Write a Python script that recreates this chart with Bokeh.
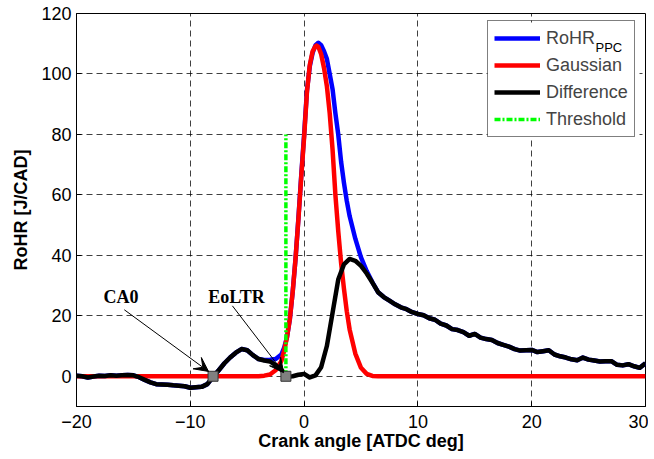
import numpy as np
from bokeh.plotting import figure
from bokeh.models import (Legend, LegendItem, Label, Arrow, VeeHead, FixedTicker, BoxAnnotation)
from bokeh.embed import file_html
from bokeh.resources import INLINE

# ---------------- data ----------------
diff_angle = list(np.arange(-20.0, 30.01, 0.5))
diff_vals = [0.2, 0.0, -0.4, -0.1, 0.2, 0.1, 0.3, 0.2, 0.3, 0.4,
             0.3, -0.3, -1.2, -2.0, -2.6, -2.7, -2.8, -3.0, -3.1, -3.3,
             -3.8, -3.6, -3.5, -2.6, -0.2, 2.0, 4.3, 6.2, 7.8, 9.0,
             8.6, 7.0, 5.7, 5.2, 4.9, 3.7, 2.2, -0.2, 0.0, 0.5,
             0.8, -0.4, 0.3, 3.0, 10.0, 21.0, 32.0, 37.0, 38.8, 38.2,
             36.5, 34.0, 31.0, 27.8, 26.2, 25.0, 23.8, 22.8, 22.2, 21.2,
             20.6, 20.2, 19.2, 18.7, 17.4, 16.8, 15.6, 15.3, 14.6, 13.4,
             14.0, 12.8, 12.3, 12.0, 11.0, 10.4, 9.8, 9.0, 8.5, 8.6,
             8.7, 8.0, 8.3, 8.6, 7.2, 6.6, 6.2, 5.6, 5.3, 6.2,
             5.5, 5.2, 4.9, 5.0, 5.0, 3.8, 3.6, 4.0, 3.3, 2.8,
             4.3]

gauss_angle = [-20, -4, -3.5, -3, -2.5, -2, -1.75, -1.5, -1.25, -1, -0.75, -0.5, -0.25, 0,
               0.25, 0.5, 0.75, 1, 1.1, 1.25, 1.5, 1.75, 2, 2.25, 2.5, 2.75, 3, 3.25, 3.5, 3.75, 4,
               4.5, 5, 5.5, 6, 6.5, 30]
gauss_vals = [0, 0, 0.2, 0.6, 2.0, 5.0, 8.5, 13, 19, 28, 39, 52, 66, 79,
              94, 103, 107.5, 109.2, 109.4, 109, 106.5, 102, 96, 87, 75, 60, 48, 37.5, 29, 21.5, 15.5,
              7.5, 2.8, 0.8, 0.1, 0, 0]

# RoHR_PPC around the combustion peak (elsewhere it coincides with the Difference curve)
peak_angle = [-3.5, -3, -2.5, -2, -1.75, -1.5, -1.25, -1, -0.75, -0.5, -0.25, 0,
              0.25, 0.5, 0.75, 1, 1.25, 1.5, 1.75, 2, 2.25, 2.5, 2.75, 3, 3.25, 3.5, 3.75, 4,
              4.5, 5, 5.5, 6]
peak_vals = [5.4, 5.5, 5.7, 7.2, 9.5, 13, 19, 28, 39, 52.3, 66.5, 79.8,
             94.5, 102.5, 107, 109.5, 110.3, 109.5, 107.5, 105, 100, 95, 87, 80, 71, 64, 58, 53,
             45.5, 39.3, 34.8, 31.1]
rohr_angle = diff_angle[:33] + peak_angle + diff_angle[53:]
rohr_vals = diff_vals[:33] + peak_vals + diff_vals[53:]

ca0 = -8.0
eoltr = -1.6
threshold_top = 80

x_ticks = [-20, -10, 0, 10, 20, 30]
y_ticks = [0, 20, 40, 60, 80, 100, 120]

# ---------------- layout constants (pixels) ----------------
FW, FH = 569, 393
X0, X1, Y0, Y1 = -20, 30, -10, 120
LEG_X, LEG_Y = 411, 269          # legend bottom-left, from frame bottom-left
LEG_PAD, ROW_H, ROW_SP, GLYPH_W, STANDOFF = 6, 22, 5, 46, 6
LEG_W, LEG_H = 152, 2 * LEG_PAD + 4 * ROW_H + 3 * ROW_SP


def sx(px):  # frame pixel -> data x
    return X0 + px / FW * (X1 - X0)


def sy(py):  # frame pixel (from bottom) -> data y
    return Y0 + py / FH * (Y1 - Y0)


# ---------------- figure ----------------
p = figure(frame_width=FW, frame_height=FH, x_range=(X0, X1), y_range=(Y0, Y1),
           output_backend="svg", toolbar_location=None,
           min_border_left=76, min_border_right=3, min_border_top=13, min_border_bottom=42)
p.background_fill_color = "white"
p.border_fill_color = "white"
p.outline_line_color = "black"
p.outline_line_width = 1

FONT = "Liberation Sans"
for ax in (p.xaxis[0], p.yaxis[0]):
    ax.major_label_text_font = FONT
    ax.major_label_text_font_size = "18px"
    ax.major_label_text_color = "black"
    ax.axis_label_text_font = FONT
    ax.axis_label_text_font_size = "18px"
    ax.axis_label_text_font_style = "bold"
    ax.axis_label_text_color = "black"
    ax.major_tick_in = 5
    ax.major_tick_out = 0
    ax.minor_tick_line_color = None
    ax.axis_line_color = "black"
    ax.major_tick_line_color = "black"

p.xaxis[0].ticker = FixedTicker(ticks=x_ticks)
p.yaxis[0].ticker = FixedTicker(ticks=y_ticks)
p.xaxis[0].axis_label = "Crank angle [ATDC deg]"
p.yaxis[0].axis_label = "RoHR [J/CAD]"
p.xaxis[0].major_label_standoff = 8
p.xaxis[0].axis_label_standoff = 0
p.yaxis[0].major_label_standoff = 5
p.yaxis[0].axis_label_standoff = 7

p.xgrid.ticker = FixedTicker(ticks=x_ticks)
p.ygrid.ticker = FixedTicker(ticks=y_ticks)
for g in (p.xgrid[0], p.ygrid[0]):
    g.grid_line_color = "black"
    g.grid_line_alpha = 0.75
    g.grid_line_dash = "6 4"
    g.grid_line_width = 1

# ---------------- curves ----------------
r_blue = p.line(rohr_angle, rohr_vals, line_color="#0000ff", line_width=4.5, line_join="round")
r_red = p.line(gauss_angle, gauss_vals, line_color="#ff0000", line_width=4.5, line_join="round")
r_black = p.line(diff_angle, diff_vals, line_color="black", line_width=4.5, line_join="round")
r_green = p.line([eoltr, eoltr], [0, threshold_top], line_color="#00ff00", line_width=3.5,
                 line_dash="6 2 2 2")
p.scatter([ca0, eoltr], [0, 0], marker="square", size=10, fill_color="#808080",
          line_color="#333333", line_width=1)

# ---------------- annotations ----------------
p.add_layout(Arrow(end=VeeHead(size=14, fill_color="black", line_color="black", line_width=1),
                   x_start=-15.8, y_start=22.0, x_end=-8.4, y_end=1.6,
                   line_color="black", line_width=1))
p.add_layout(Arrow(end=VeeHead(size=14, fill_color="black", line_color="black", line_width=1),
                   x_start=-6.3, y_start=23.3, x_end=-1.8, y_end=1.2,
                   line_color="black", line_width=1))
for txt, xx in (("CA0", -16.1), ("EoLTR", -5.94)):
    p.add_layout(Label(x=xx, y=26.1, text=txt, text_font="Liberation Serif",
                       text_font_style="bold", text_font_size="18px",
                       text_align="center", text_baseline="middle", text_color="black"))

# ---------------- legend ----------------
# white backing box (legend itself is transparent so the subscript stays visible)
p.add_layout(BoxAnnotation(left=sx(LEG_X), right=sx(LEG_X + LEG_W),
                           bottom=sy(LEG_Y), top=sy(LEG_Y + LEG_H),
                           fill_color="white", fill_alpha=1, line_color=None))

legend = Legend(items=[LegendItem(label="RoHR", renderers=[r_blue]),
                       LegendItem(label="Gaussian", renderers=[r_red]),
                       LegendItem(label="Difference", renderers=[r_black]),
                       LegendItem(label="Threshold", renderers=[r_green])],
                location=(LEG_X, LEG_Y))
legend.label_text_font = FONT
legend.label_text_font_size = "18px"
legend.glyph_width = GLYPH_W
legend.glyph_height = ROW_H
legend.label_height = ROW_H
legend.label_standoff = STANDOFF
legend.spacing = ROW_SP
legend.padding = LEG_PAD
legend.margin = 0
legend.border_line_color = "black"
legend.border_line_width = 1
legend.background_fill_alpha = 0
p.add_layout(legend)

# subscript of RoHR_PPC
p.add_layout(Label(x=sx(LEG_X + LEG_PAD + GLYPH_W + STANDOFF + 50),
                   y=sy(LEG_Y + LEG_H - LEG_PAD - ROW_H / 2 - 8),
                   text="PPC", text_font=FONT, text_font_size="13px",
                   text_align="left", text_baseline="middle", text_color="black"))

open("out.html", "w").write(file_html(p, INLINE))
